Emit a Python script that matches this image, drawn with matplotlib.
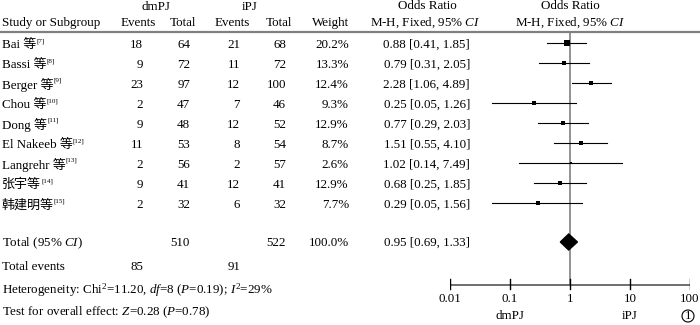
import numpy as np
import matplotlib.pyplot as plt
from matplotlib.patches import Polygon, Circle

plt.rcParams['font.family'] = ['Liberation Serif', 'Noto Sans CJK SC']
plt.rcParams['mathtext.fontset'] = 'custom'
plt.rcParams['mathtext.rm'] = 'Liberation Serif'
plt.rcParams['mathtext.it'] = 'Liberation Serif:italic'

studies = ['Bai 等', 'Bassi 等', 'Berger 等', 'Chou 等', 'Dong 等', 'El Nakeeb 等',
           'Langrehr 等', '张宇等', '韩建明等']
refs = ['[7]', '[8]', '[9]', '[10]', '[11]', '[12]', '[13]', '[14]', '[15]']
dm_events = [18, 9, 23, 2, 9, 11, 2, 9, 2]
dm_total = [64, 72, 97, 47, 48, 53, 56, 41, 32]
ipj_events = [21, 11, 12, 7, 12, 8, 2, 12, 6]
ipj_total = [68, 72, 100, 46, 52, 54, 57, 41, 32]
weight = [20.2, 13.3, 12.4, 9.3, 12.9, 8.7, 2.6, 12.9, 7.7]
odds = [0.88, 0.79, 2.28, 0.25, 0.77, 1.51, 1.02, 0.68, 0.29]
ci_lo = [0.41, 0.31, 1.06, 0.05, 0.29, 0.55, 0.14, 0.25, 0.05]
ci_hi = [1.85, 2.05, 4.89, 1.26, 2.03, 4.10, 7.49, 1.85, 1.56]
total_or, total_lo, total_hi = 0.95, 0.69, 1.33
total_dm, total_ipj = 510, 522
events_dm, events_ipj = 85, 91
xticks = [0.01, 0.1, 1, 10, 100]

fs = 9.4
fig = plt.figure(figsize=(7, 3.25), dpi=100)

# text layer in pixel coordinates
ax0 = fig.add_axes([0, 0, 1, 1])
ax0.set_xlim(0, 700)
ax0.set_ylim(325, 0)
ax0.axis('off')

# forest layer: log x, pixel y
ax = fig.add_axes([450 / 700, 0, 240 / 700, 1])
ax.set_xscale('log')
ax.set_xlim(0.01, 100)
ax.set_ylim(325, 0)
ax.axis('off')

# headers
ax0.text(156, 7, 'dmPJ', ha='center', va='center', fontsize=fs)
ax0.text(250, 7, 'iPJ', ha='center', va='center', fontsize=fs)
ax0.text(427, 6, 'Odds Ratio', ha='center', va='center', fontsize=fs)
ax0.text(570, 6, 'Odds Ratio', ha='center', va='center', fontsize=fs)
ax0.text(2, 23, 'Study or Subgroup', ha='left', va='center', fontsize=fs)
ax0.text(138, 23, 'Events', ha='center', va='center', fontsize=fs)
ax0.text(183, 23, 'Total', ha='center', va='center', fontsize=fs)
ax0.text(232, 23, 'Events', ha='center', va='center', fontsize=fs)
ax0.text(279, 23, 'Total', ha='center', va='center', fontsize=fs)
ax0.text(349, 23, 'Weight', ha='right', va='center', fontsize=fs)
ax0.text(425, 23, r'M-H, Fixed, 95% $CI$', ha='center', va='center', fontsize=fs)
ax0.text(570, 23, r'M-H, Fixed, 95% $CI$', ha='center', va='center', fontsize=fs)
ax0.plot([0, 700], [32, 32], color='#808080', lw=1.6)

# study rows
for i, name in enumerate(studies):
    y = 45 + 20 * i
    t = ax0.text(2, y, name, ha='left', va='center', fontsize=fs, fontweight='light')
    ax0.annotate(refs[i], xy=(1.0, 1.0), xycoords=t, ha='left', va='top', fontsize=5)
    ax0.text(143, y, str(dm_events[i]), ha='right', va='center', fontsize=fs)
    ax0.text(190, y, str(dm_total[i]), ha='right', va='center', fontsize=fs)
    ax0.text(240, y, str(ipj_events[i]), ha='right', va='center', fontsize=fs)
    ax0.text(286, y, str(ipj_total[i]), ha='right', va='center', fontsize=fs)
    ax0.text(349, y, f'{weight[i]:.1f}%', ha='right', va='center', fontsize=fs)
    ax0.text(470, y, f'{odds[i]:.2f} [{ci_lo[i]:.2f}, {ci_hi[i]:.2f}]',
             ha='right', va='center', fontsize=fs)
    ax.plot([ci_lo[i], ci_hi[i]], [y - 2, y - 2], color='black', lw=0.8)
    ax.plot(odds[i], y - 2, marker='s', color='black',
            markersize=0.72 * 1.35 * np.sqrt(weight[i]), markeredgewidth=0)

# total
yt = 243
ax0.text(2, yt, r'Total (95% $CI$)', ha='left', va='center', fontsize=fs)
ax0.text(190, yt, str(total_dm), ha='right', va='center', fontsize=fs)
ax0.text(286, yt, str(total_ipj), ha='right', va='center', fontsize=fs)
ax0.text(349, yt, '100.0%', ha='right', va='center', fontsize=fs)
ax0.text(470, yt, f'{total_or:.2f} [{total_lo:.2f}, {total_hi:.2f}]',
         ha='right', va='center', fontsize=fs)
ax.add_patch(Polygon([[total_lo, yt - 1], [total_or, yt - 9], [total_hi, yt - 1],
                      [total_or, yt + 7]], closed=True, color='black'))

ax0.text(2, 267, 'Total events', ha='left', va='center', fontsize=fs)
ax0.text(143, 267, str(events_dm), ha='right', va='center', fontsize=fs)
ax0.text(240, 267, str(events_ipj), ha='right', va='center', fontsize=fs)
ax0.text(2, 290, r'Heterogeneity: Chi$^2$=11.20, $df$=8 ($P$=0.19); $I^2$=29%',
         ha='left', va='center', fontsize=fs)
ax0.text(2, 312, r'Test for overall effect: $Z$=0.28 ($P$=0.78)',
         ha='left', va='center', fontsize=fs)

# null line and axis
ax.plot([1, 1], [32, 285], color='#808080', lw=1.2, zorder=0)
ax.plot([0.01, 100], [285, 285], color='#555555', lw=1.2)
for xt in xticks:
    ax.plot([xt, xt], [279, 289], color='black', lw=1.0)
    ax.text(xt, 299, f'{xt:g}', ha='center', va='center', fontsize=fs)
ax.text(0.1, 316, 'dmPJ', ha='center', va='center', fontsize=fs)
ax.text(10, 316, 'iPJ', ha='center', va='center', fontsize=fs)
ax0.add_patch(Circle((688, 316), 6, fill=False, color='black', lw=0.8))
ax0.text(688, 316, '1', ha='center', va='center', fontsize=fs)

fig.savefig('out.png', dpi=100)
